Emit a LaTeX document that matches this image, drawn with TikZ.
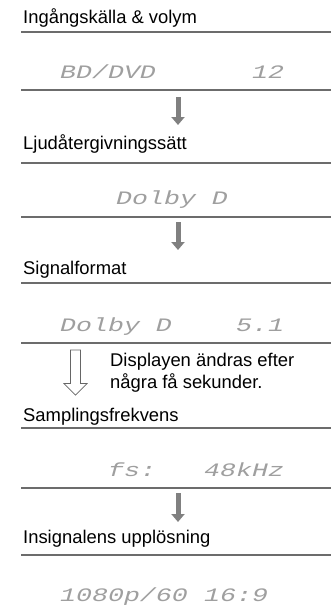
\documentclass[tikz,border=0pt]{standalone}
\usepackage{fontspec}
\setmainfont{Liberation Sans}
\newfontfamily\lcdfamily{Liberation Mono}
\usetikzlibrary{arrows.meta}

\newcommand{\lcdtext}[1]{\scalebox{1.4}[1]{#1}}

\begin{document}
\begin{tikzpicture}[x=1pt,y=-1pt,
    heading/.style={anchor=base west,inner sep=0pt,font=\fontsize{18.4}{22}\selectfont},
    lcd/.style={anchor=base west,inner sep=0pt,text=gray!75,font=\fontsize{19}{19}\lcdfamily\itshape},
    rule/.style={gray!85!black,line width=1.2pt},
    nextstep/.style={gray,line width=5pt,-{Triangle[width=13pt,length=8pt]}},
    waitstep/.style={gray!80!black,line width=0.7pt,fill=white}]
  \useasboundingbox (0,0) rectangle (331,614);
  % headings and display rows
  \node[heading] (h1) at (23,23.5) {Ingångskälla \& volym};
  \node[lcd] (d1a) at (60,78.5) {\lcdtext{BD/DVD}};
  \node[lcd] (d1b) at (252,78.5) {\lcdtext{12}};
  \node[heading] (h2) at (23,149.5) {Ljudåtergivningssätt};
  \node[lcd] (d2) at (116,204.5) {\lcdtext{Dolby D}};
  \node[heading] (h3) at (23,274.5) {Signalformat};
  \node[lcd] (d3a) at (60,331.5) {\lcdtext{Dolby D}};
  \node[lcd] (d3b) at (236,331.5) {\lcdtext{5.1}};
  \node[heading] (h4) at (23,421.5) {Samplingsfrekvens};
  \node[lcd] (d4a) at (108,476.5) {\lcdtext{fs:}};
  \node[lcd] (d4b) at (204,476.5) {\lcdtext{48kHz}};
  \node[heading] (h5) at (23,543.5) {Insignalens upplösning};
  \node[lcd] (d5a) at (60,601.5) {\lcdtext{1080p/60}};
  \node[lcd] (d5b) at (204,601.5) {\lcdtext{16:9}};
  % rules under each row
  \foreach \y in {32,90,163,217,283,343,428,488,555}
    \draw[rule] (21,\y) -- (331,\y);
  % arrows between the steps
  \coordinate (s1) at (178,97);  \coordinate (e1) at (178,125);
  \coordinate (s2) at (178,222); \coordinate (e2) at (178,250);
  \coordinate (s4) at (178,493); \coordinate (e4) at (178,522);
  \draw[nextstep] (s1) -- (e1);
  \draw[nextstep] (s2) -- (e2);
  \draw[nextstep] (s4) -- (e4);
  % hollow arrow for the delayed change
  \coordinate (w) at (75.5,395);
  \draw[waitstep] (w) -- ++(-11.5,-11.5) -- ++(6.5,0) -- ++(0,-33.5)
    -- ++(10,0) -- ++(0,33.5) -- ++(6.5,0) -- cycle;
  \node[anchor=base west,inner sep=0pt,align=left,
        font=\fontsize{18.4}{22}\selectfont] (note) at (110,388.5)
    {Displayen ändras efter\\några få sekunder.};
\end{tikzpicture}
\end{document}
